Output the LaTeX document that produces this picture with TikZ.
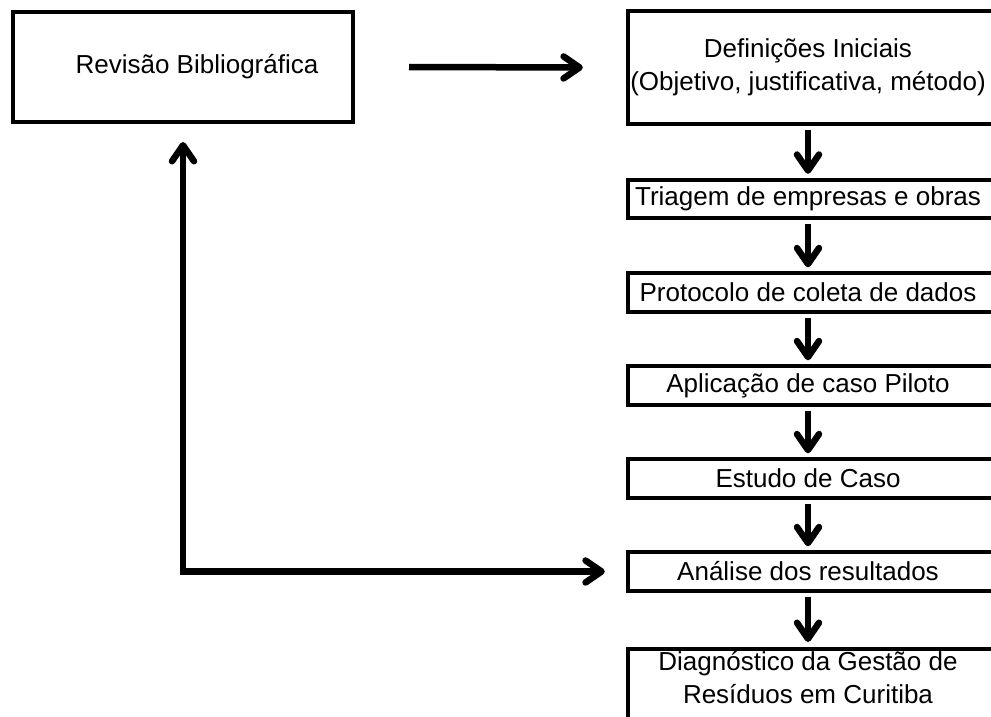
\documentclass[tikz,border=0pt]{standalone}
\usepackage{fontspec}
\setmainfont{Liberation Sans}
\usetikzlibrary{arrows.meta}
\begin{document}
\begin{tikzpicture}[x=1pt,y=-1pt,
  every node/.style={font=\fontsize{26}{33}\selectfont},
  frame/.style={draw=black,line width=4pt},
  revbox/.style={frame,minimum width=340pt,minimum height=110pt,inner sep=0pt},
  stepbox/.style={minimum width=360pt,minimum height=36pt,inner sep=0pt,align=center},
  arr/.style={line width=6.5pt,-{Straight Barb[length=16pt,width=22pt,round]}},
  darr/.style={line width=6.5pt,{Straight Barb[length=16pt,width=22pt,round]}-{Straight Barb[length=16pt,width=22pt,round]}}
]
\useasboundingbox (0,0) rectangle (991,717);
\fill[white] (0,0) rectangle (991,717);

\node[revbox] (rev) at (183,67) {\hspace*{28pt}\raisebox{-3pt}{Revisão Bibliográfica}};

\node[stepbox,minimum height=111pt] (def) at (808,67.5) {Definições Iniciais\\(Objetivo, justificativa, método)};
\node[stepbox] (tri) at (808,199) {Triagem de empresas e obras};
\node[stepbox] (pro) at (808,292.5) {Protocolo de coleta de dados};
\node[stepbox] (apl) at (808,385.5) {Aplicação de caso Piloto};
\node[stepbox] (est) at (808,478.5) {Estudo de Caso};
\node[stepbox] (ana) at (808,571.5) {Análise dos resultados};
\node[stepbox,minimum height=0pt] (dia) at (808,678) {Diagnóstico da Gestão de\\Resíduos em Curitiba};
\coordinate (diatop) at (628,649);

\foreach \n in {def,tri,pro,apl,est,ana}{
  \draw[frame] ([yshift=1pt]\n.north west) rectangle ([xshift=40pt,yshift=-1pt]\n.south east);
}
\draw[frame] (diatop) rectangle ++(372,100);

\draw[arr] ([xshift=54pt]rev.east) -- ([xshift=-45pt]def.west);
\draw[arr] ([yshift=-7pt]def.south) -- ([yshift=7pt]tri.north);
\draw[arr] ([yshift=-7pt]tri.south) -- ([yshift=7pt]pro.north);
\draw[arr] ([yshift=-7pt]pro.south) -- ([yshift=7pt]apl.north);
\draw[arr] ([yshift=-7pt]apl.south) -- ([yshift=7pt]est.north);
\draw[arr] ([yshift=-7pt]est.south) -- ([yshift=7pt]ana.north);
\draw[arr] ([yshift=-7pt]ana.south) -- ([yshift=7pt]diatop -| dia.north);
\draw[darr] ([yshift=-18pt]rev.south) |- ([xshift=-23pt]ana.west);
\end{tikzpicture}
\end{document}
